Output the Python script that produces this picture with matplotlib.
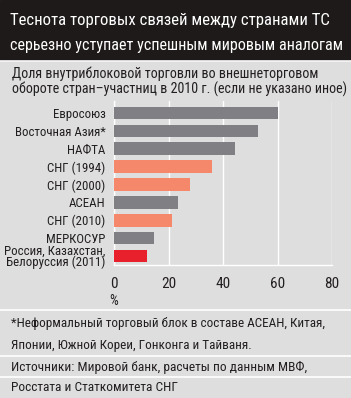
import matplotlib.pyplot as plt

# Данные
categories = ['Евросоюз', 'Восточная Азия*', 'НАФТА', 'СНГ (1994)', 'СНГ (2000)',
              'АСЕАН', 'СНГ (2010)', 'МЕРКОСУР', 'Россия, Казахстан,\nБелоруссия (2011)']
values = [60, 53, 44.5, 36, 28, 23.4, 21.2, 14.8, 12]
groups = ['world', 'world', 'world', 'cis', 'cis', 'world', 'cis', 'world', 'ts']
ticks = [0, 20, 40, 60, 80]

colors = {'world': '#808084', 'cis': '#f5876b', 'ts': '#e8202b'}
bg = '#dedede'
ink = '#231f20'

plt.rcParams['font.family'] = ['Roboto Condensed', 'DejaVu Sans']

fig = plt.figure(figsize=(3.51, 3.98), dpi=100)
fig.patch.set_facecolor(bg)

# Шапка
fig.patches.append(plt.Rectangle((0, 1 - 60 / 398), 1, 60 / 398, transform=fig.transFigure,
                                 color='#1f1a1a', zorder=0))
fig.text(10 / 351, 1 - 25 / 398, 'Теснота торговых связей между странами ТС',
         color='white', fontsize=12.1)
fig.text(10 / 351, 1 - 50 / 398, 'серьезно уступает успешным мировым аналогам',
         color='white', fontsize=11.6)

fig.text(12 / 351, 1 - 78 / 398, 'Доля внутриблоковой торговли во внешнеторговом',
         color=ink, fontsize=10.1)
fig.text(12 / 351, 1 - 94 / 398, 'обороте стран–участниц в 2010 г. (если не указано иное)',
         color=ink, fontsize=10.1)

ax = fig.add_axes([114 / 351, (398 - 265) / 398, 218 / 351, 164 / 398])
ax.set_facecolor(bg)
y = list(range(len(categories)))
ax.barh(y, values, height=0.7, color=[colors[g] for g in groups], zorder=3)
ax.set_ylim(8.5, -0.67)
ax.set_xlim(0, 80)
ax.set_xticks(ticks)
ax.set_xticklabels([str(t) for t in ticks], fontsize=11, color=ink)
ax.set_yticks(y)
ax.set_yticklabels(categories, fontsize=9.3, color=ink, linespacing=0.8)
ax.tick_params(length=0)
ax.tick_params(axis='x', pad=9)
ax.tick_params(axis='y', pad=6)
ax.grid(axis='x', color='white', linewidth=1, zorder=1)
for s in ['top', 'right']:
    ax.spines[s].set_visible(False)
for s in ['left', 'bottom']:
    ax.spines[s].set_color('white')
    ax.spines[s].set_linewidth(1)
ax.text(0, -0.22, '%', transform=ax.get_xaxis_transform(), ha='center', va='center',
        fontsize=10, color=ink)

# Разделители и подписи
for yy in [61, 310, 356, 377]:
    fig.add_artist(plt.Line2D([0, 1], [1 - yy / 398] * 2, color='white', linewidth=1.2))

fig.text(11 / 351, 1 - 327 / 398, '*Неформальный торговый блок в составе АСЕАН, Китая,',
         fontsize=9.5, color=ink)
fig.text(11 / 351, 1 - 349 / 398, 'Японии, Южной Кореи, Гонконга и Тайваня.',
         fontsize=9.5, color=ink)
fig.text(11 / 351, 1 - 371 / 398, 'Источники: Мировой банк, расчеты по данным МВФ,',
         fontsize=9.6, color=ink)
fig.text(11 / 351, 1 - 391 / 398, 'Росстата и Статкомитета СНГ',
         fontsize=9.6, color=ink)

fig.savefig('out.png', dpi=100, facecolor=bg)
